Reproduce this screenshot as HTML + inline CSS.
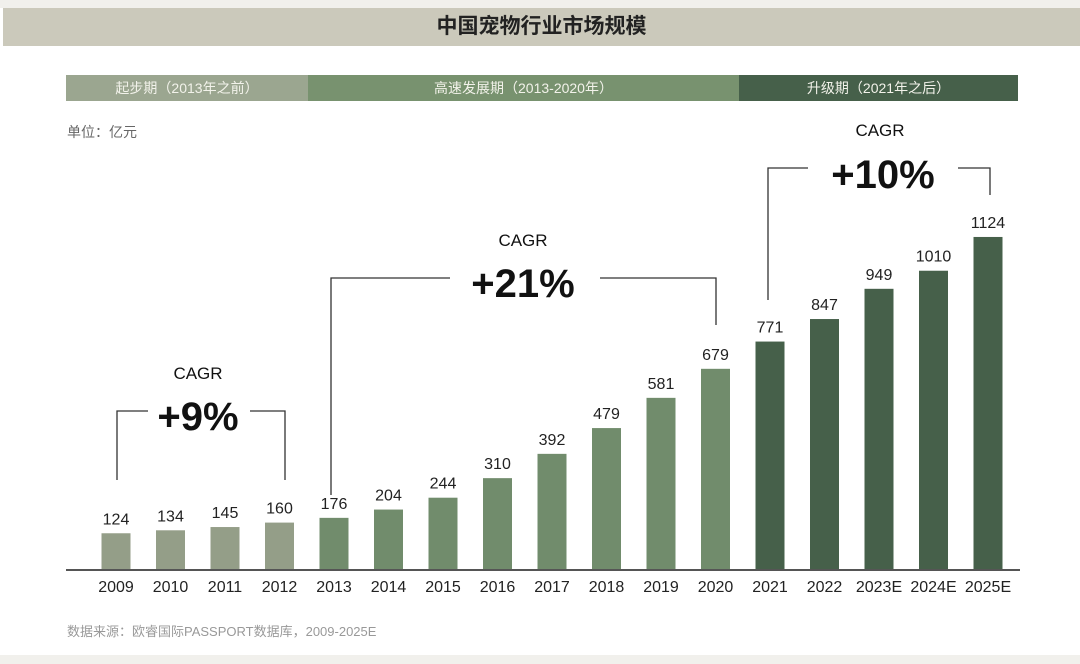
<!DOCTYPE html>
<html><head><meta charset="utf-8"><style>
body{margin:0;width:1080px;height:664px;background:#fff;overflow:hidden;font-family:"Liberation Sans","Noto Sans CJK SC",sans-serif;position:relative}
.a{position:absolute}
</style></head><body>
<div class="a" style="left:0;top:0;width:1080px;height:8px;background:#f1f0ec"></div>
<div class="a" style="left:3px;top:8px;width:1077px;height:38px;background:#cbc9bb;text-align:center;line-height:38px;font-size:21px;font-weight:bold;color:#222">中国宠物行业市场规模</div>
<div class="a" style="left:0;top:655px;width:1080px;height:9px;background:#f1f0ec"></div>
<div class="a" style="left:66px;top:75px;width:242px;height:26px;background:#9ba690;color:#f2f2ea;font-size:14px;line-height:26px;text-align:center">起步期（2013年之前）</div>
<div class="a" style="left:308px;top:75px;width:431px;height:26px;background:#78926f;color:#f2f2ea;font-size:14px;line-height:26px;text-align:center">高速发展期（2013-2020年）</div>
<div class="a" style="left:739px;top:75px;width:279px;height:26px;background:#46604a;color:#f2f2ea;font-size:14px;line-height:26px;text-align:center">升级期（2021年之后）</div>
<div class="a" style="left:67px;top:122px;font-size:14px;color:#666">单位：亿元</div>
<div class="a" style="left:67px;top:621px;font-size:13px;color:#999">数据来源：欧睿国际PASSPORT数据库，2009-2025E</div>
<svg class="a" style="left:0;top:0" width="1080" height="664">
<g id="bars"></g>
<line x1="66" y1="570" x2="1020" y2="570" stroke="#555" stroke-width="2"/>
<g fill="none" stroke="#333" stroke-width="1.3">
<polyline points="117,480 117,411 148,411"/><polyline points="250,411 285,411 285,480"/>
<polyline points="331,495 331,278 450,278"/><polyline points="600,278 716,278 716,325"/>
<polyline points="768,300 768,168 808,168"/><polyline points="958,168 990,168 990,195"/>
</g>
<g font-family="Liberation Sans, sans-serif" text-anchor="middle" fill="#111">
<text x="198" y="379" font-size="17">CAGR</text><text x="198" y="430" font-size="40" font-weight="bold">+9%</text>
<text x="523" y="246" font-size="17">CAGR</text><text x="523" y="297" font-size="40" font-weight="bold">+21%</text>
<text x="880" y="136" font-size="17">CAGR</text><text x="883" y="188" font-size="40" font-weight="bold">+10%</text>
</g>
<g id="lab" font-family="Liberation Sans, sans-serif" text-anchor="middle" fill="#222"></g>
</svg>
<script>
var v=[124,134,145,160,176,204,244,310,392,479,581,679,771,847,949,1010,1124];
var y=["2009","2010","2011","2012","2013","2014","2015","2016","2017","2018","2019","2020","2021","2022","2023E","2024E","2025E"];
var b="",l="";
for(var i=0;i<17;i++){var cx=116+i*54.5,h=v[i]*0.2963,c=i<4?"#949e88":(i<12?"#718c6c":"#46604a");
b+='<rect x="'+(cx-14.5)+'" y="'+(570-h)+'" width="29" height="'+h+'" fill="'+c+'"/>';
l+='<text x="'+cx+'" y="'+(570-h-9)+'" font-size="16">'+v[i]+'</text><text x="'+cx+'" y="592" font-size="16">'+y[i]+'</text>';}
document.getElementById("bars").innerHTML=b;document.getElementById("lab").innerHTML=l;
</script>
</body></html>
